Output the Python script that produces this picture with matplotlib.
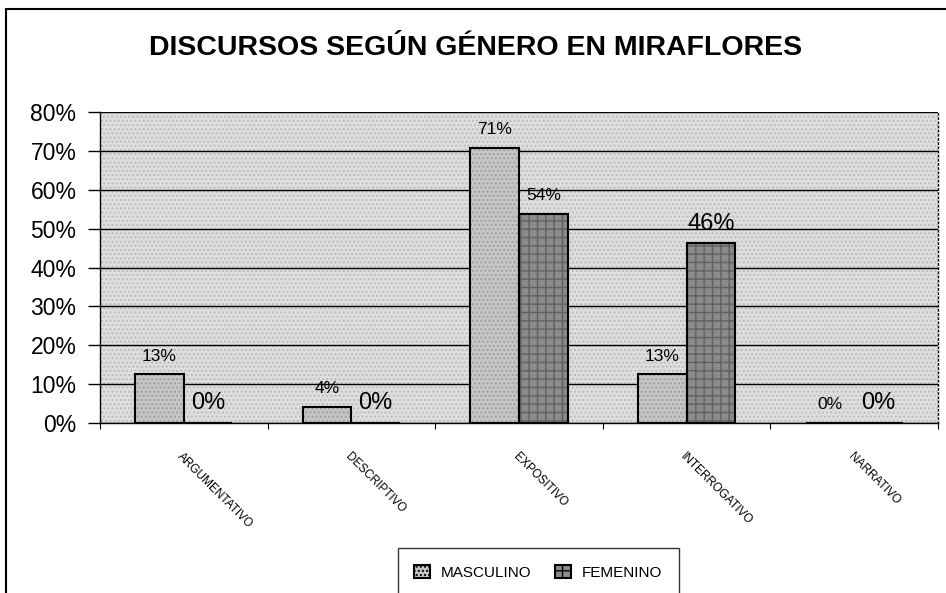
import numpy as np
import matplotlib.pyplot as plt
from matplotlib.patches import Rectangle

plt.rcParams['font.family'] = ['Liberation Sans', 'DejaVu Sans']

# data (shares of each group)
categorias = ['ARGUMENTATIVO', 'DESCRIPTIVO', 'EXPOSITIVO', 'INTERROGATIVO', 'NARRATIVO']
masculino = [0.125, 0.042, 0.708, 0.125, 0.0]
femenino = [0.0, 0.0, 0.538, 0.462, 0.0]
y_ticks = [0, 0.1, 0.2, 0.3, 0.4, 0.5, 0.6, 0.7, 0.8]

# label font sizes as they appear in the scan
size_masc = [12.5, 12.5, 12.5, 12.5, 12.5]
size_fem = [17, 17, 12.5, 17, 17]


def pct(v):
    return '%d%%' % int(v * 100 + 0.5)


fig = plt.figure(figsize=(9.46, 5.93), dpi=100)
ax = fig.add_axes([0.1057, 0.2867, 0.8858, 0.5244])

# outer chart frame (cut off at right and bottom like the scan)
fig.patches.append(Rectangle((6 / 946, -0.2), 1.2, 1.2 - 9 / 593,
                             transform=fig.transFigure, fill=False,
                             edgecolor='black', lw=1.5, clip_on=False))

x = np.arange(len(categorias))
w = 0.29

ax.set_facecolor('#dedede')
ax.patch.set_hatch('....')
ax.patch.set_edgecolor('#bcbcbc')

# bars: hatch layer first, then black outline on top
ax.bar(x - w / 2, masculino, w, color='#c6c6c6', hatch='....', edgecolor='#a0a0a0', lw=0, zorder=3)
ax.bar(x + w / 2, femenino, w, color='#8a8a8a', hatch='++', edgecolor='#606060', lw=0, zorder=3)
b1 = ax.bar(x - w / 2, masculino, w, fill=False, edgecolor='black', lw=1.5, zorder=4)
b2 = ax.bar(x + w / 2, femenino, w, fill=False, edgecolor='black', lw=1.5, zorder=4)

for i in range(len(categorias)):
    ax.annotate(pct(masculino[i]), (x[i] - w / 2, masculino[i]), xytext=(0, 10),
                textcoords='offset points', ha='center', va='baseline', fontsize=size_masc[i])
    ax.annotate(pct(femenino[i]), (x[i] + w / 2, femenino[i]), xytext=(0, 10),
                textcoords='offset points', ha='center', va='baseline', fontsize=size_fem[i])

ax.set_xlim(-0.5, len(categorias) - 0.5)
ax.set_ylim(0, 0.8)
ax.set_yticks(y_ticks)
ax.set_yticklabels([pct(v) for v in y_ticks], fontsize=16.5)
ax.yaxis.grid(True, color='black', lw=1)
ax.set_axisbelow(True)
ax.tick_params(axis='y', length=9, width=1, direction='out', pad=8)

# small ticks between groups, category names on minor ticks
ax.set_xticks(np.arange(len(categorias) + 1) - 0.5)
ax.set_xticklabels([])
ax.tick_params(axis='x', which='major', length=4, direction='out')
ax.set_xticks(x, minor=True)
ax.set_xticklabels(categorias, minor=True, rotation=-45, ha='left', va='top',
                   rotation_mode='anchor', fontsize=8.5)
ax.tick_params(axis='x', which='minor', length=0, pad=20)

for s in ax.spines.values():
    s.set_linewidth(1)
ax.spines['top'].set_visible(False)
ax.spines['right'].set_linestyle((0, (1, 2)))

fig.text(0.503, 0.907, 'DISCURSOS SEGÚN GÉNERO EN MIRAFLORES', ha='center', va='baseline',
         fontsize=20.5, fontweight='bold')

leg = ax.legend([b1[0], b2[0]], ['MASCULINO', 'FEMENINO'], loc='upper center',
                bbox_to_anchor=(538 / 946, 1 - 548 / 593), bbox_transform=fig.transFigure,
                borderaxespad=0, ncol=2, frameon=True, fancybox=False, fontsize=11,
                handlelength=1.0, handleheight=1.0, handletextpad=0.7, columnspacing=1.6,
                borderpad=1.1)
# legend handles: hatched squares
leg.legend_handles[0].set_facecolor('#c6c6c6')
leg.legend_handles[0].set_fill(True)
leg.legend_handles[0].set_hatch('....')
leg.legend_handles[1].set_facecolor('#8a8a8a')
leg.legend_handles[1].set_fill(True)
leg.legend_handles[1].set_hatch('++')
leg.get_frame().set_edgecolor('black')
leg.get_frame().set_linewidth(1)

fig.savefig('out.png', dpi=100)
